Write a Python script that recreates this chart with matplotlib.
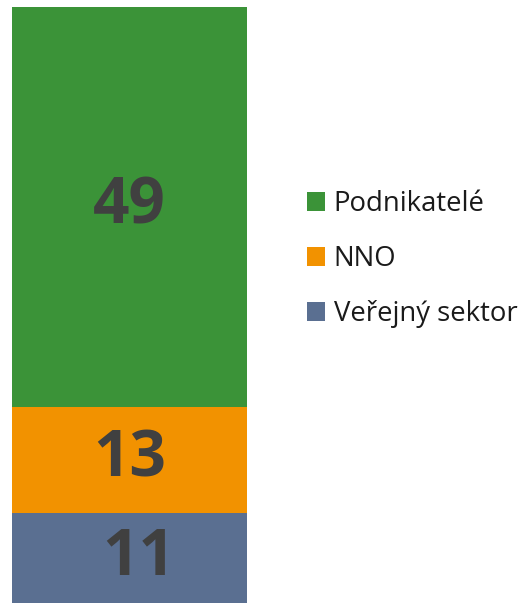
import matplotlib
matplotlib.use("Agg")
import matplotlib.pyplot as plt
from matplotlib.patches import Patch

categories = ["Veřejný sektor", "NNO", "Podnikatelé"]
values = [11, 13, 49]
colors = ["#5A6F91", "#F29200", "#3B9338"]

plt.rcParams['font.family'] = ['Open Sans', 'DejaVu Sans']

fig = plt.figure(figsize=(5.23, 6.03), dpi=100)
ax = fig.add_axes([12/523, 0, 235/523, 596/603])

bottom = 0
for cat, v, c in zip(categories, values, colors):
    ax.bar(0, v, width=1.0, bottom=bottom, color=c, label=cat)
    ax.text(0.04 if v == 11 else 0, bottom + v / 2, str(v), ha="center", va="center",
            fontsize=46, fontweight="bold", color="#404040")
    bottom += v

ax.set_xlim(-0.5, 0.5)
ax.set_ylim(0, sum(values))
ax.axis("off")

handles = [Patch(facecolor=c, edgecolor="none") for c in colors][::-1]
labels = categories[::-1]
leg = fig.legend(handles, labels, loc="center left", bbox_to_anchor=(282/523, 1 - 259/603),
                 frameon=False, fontsize=19.8, handlelength=0.68, handleheight=0.68,
                 handletextpad=0.3, labelspacing=0.98, labelcolor="#1a1a1a")

fig.savefig("out.png", dpi=100)
